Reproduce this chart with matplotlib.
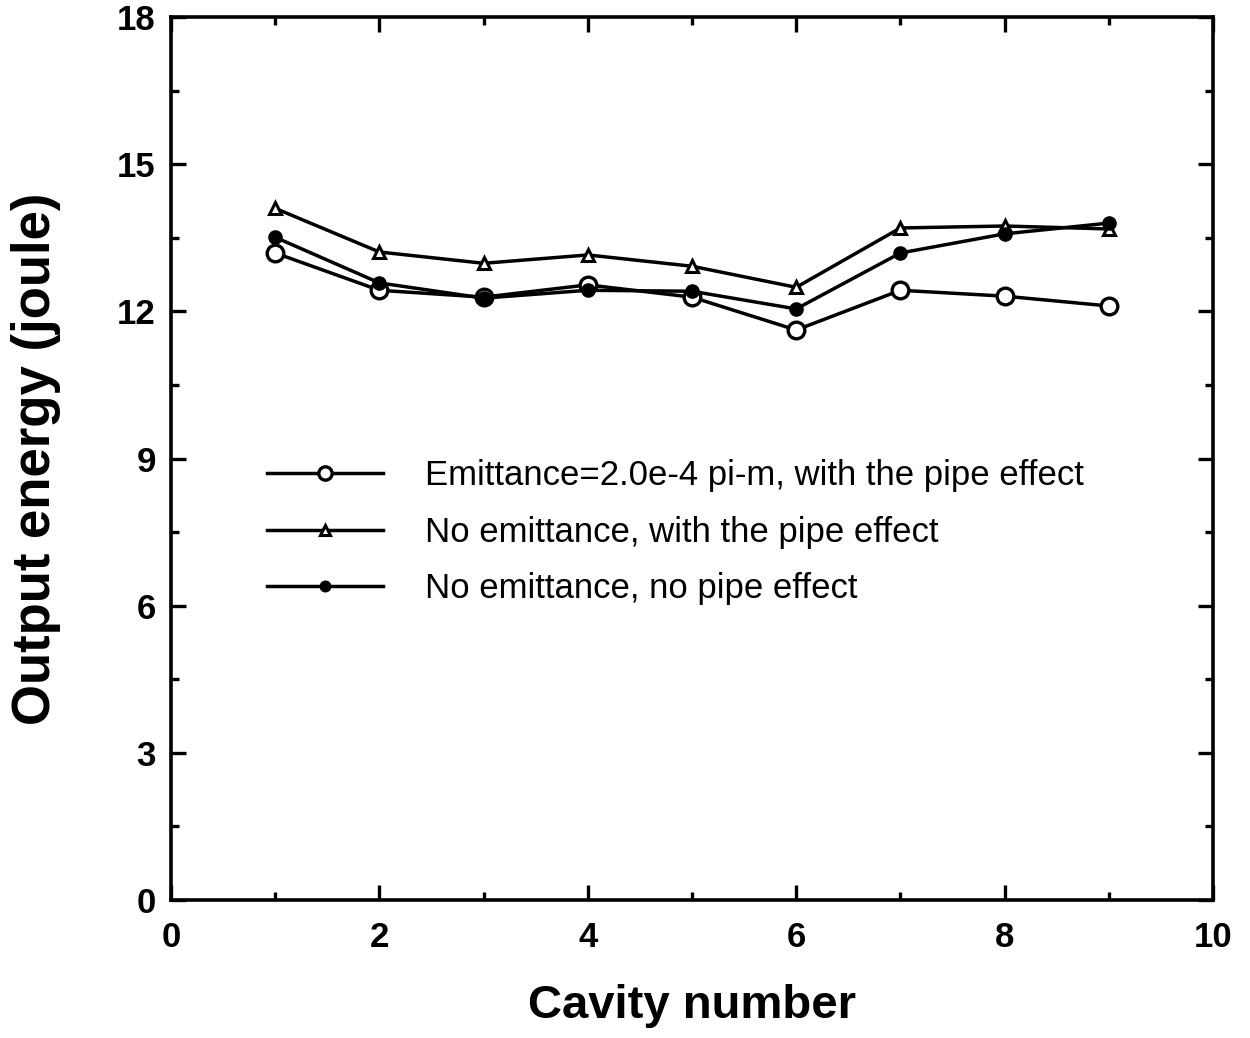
import matplotlib
matplotlib.use("Agg")
import matplotlib.pyplot as plt
from matplotlib.ticker import MultipleLocator

cavity = [1, 2, 3, 4, 5, 6, 7, 8, 9]
emit_pipe = [13.19, 12.43, 12.29, 12.54, 12.29, 11.62, 12.43, 12.31, 12.11]
noemit_pipe = [14.10, 13.21, 12.98, 13.15, 12.92, 12.49, 13.70, 13.74, 13.68]
noemit_nopipe = [13.51, 12.58, 12.27, 12.43, 12.41, 12.05, 13.19, 13.58, 13.80]

labels = ["Emittance=2.0e-4 pi-m, with the pipe effect",
          "No emittance, with the pipe effect",
          "No emittance, no pipe effect"]

plt.rcParams["font.family"] = ["Liberation Sans", "DejaVu Sans"]

def main():
    fig = plt.figure(figsize=(12.5, 10.38), dpi=100)
    ax = fig.add_axes([0.1368, 0.1329, 0.8336, 0.8507])

    lw = 2.5
    l1, = ax.plot(cavity, emit_pipe, "-o", color="black", lw=lw, ms=12,
                  mfc="white", mec="black", mew=2.4, zorder=3)
    l2, = ax.plot(cavity, noemit_pipe, "-^", color="black", lw=lw, ms=8.5,
                  mfc="white", mec="black", mew=2.2, zorder=3)
    l3, = ax.plot(cavity, noemit_nopipe, "-o", color="black", lw=lw, ms=9.5,
                  mfc="black", mec="black", zorder=3)

    ax.set_xlim(0, 10)
    ax.set_ylim(0, 18)
    ax.xaxis.set_major_locator(MultipleLocator(2))
    ax.xaxis.set_minor_locator(MultipleLocator(1))
    ax.yaxis.set_major_locator(MultipleLocator(3))
    ax.yaxis.set_minor_locator(MultipleLocator(1.5))
    ax.tick_params(which="both", direction="in", top=True, right=True, width=2.4)
    ax.tick_params(which="major", length=11, labelsize=25)
    ax.tick_params(which="minor", length=6)
    ax.tick_params(axis="x", which="major", pad=15)
    ax.tick_params(axis="y", which="major", pad=11)
    for lab in ax.get_xticklabels() + ax.get_yticklabels():
        lab.set_fontweight("bold")
    for sp in ax.spines.values():
        sp.set_linewidth(2.6)

    ax.set_xlabel("Cavity number", fontsize=34, fontweight="bold", labelpad=22)
    ax.set_ylabel("Output energy (joule)", fontsize=38, fontweight="bold", labelpad=40)

    ax.legend([l1, l2, l3], labels, loc="upper left",
              bbox_to_anchor=(0.092, 0.499), frameon=False, fontsize=25,
              borderpad=0, borderaxespad=0,
              handlelength=3.35, handletextpad=1.2, labelspacing=0.67,
              markerscale=0.8)
    plt.savefig("out.png", dpi=100)

if __name__ == "__main__":
    main()
